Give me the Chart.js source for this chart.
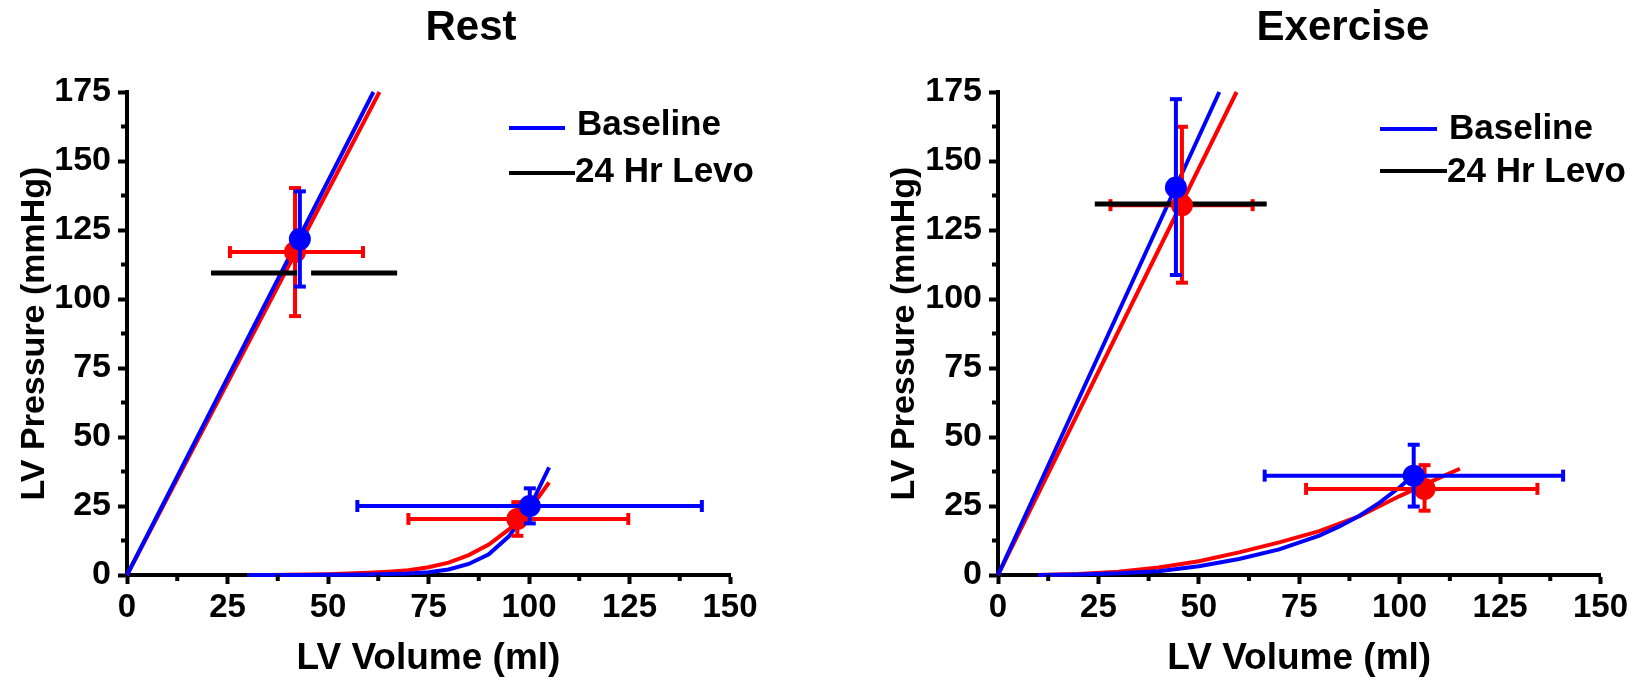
<!DOCTYPE html>
<html><head><meta charset="utf-8">
<script src="https://cdn.jsdelivr.net/npm/chart.js@4.4.1/dist/chart.umd.min.js"></script>
<style>
html,body{margin:0;padding:0;background:#fff;}
#wrap{position:relative;width:1635px;height:684px;overflow:hidden;background:#fff;}
.cv{position:absolute;top:0;height:684px;}
.ttl{position:absolute;width:400px;text-align:center;font:bold 42px "Liberation Sans",Arial,sans-serif;line-height:48px;color:#000;white-space:nowrap;}
.lgt{position:absolute;font:bold 35px "Liberation Sans",Arial,sans-serif;line-height:40px;color:#000;white-space:nowrap;}
.lgl{position:absolute;}
</style>
</head><body>
<div id="wrap">
  <div class="cv" style="left:0;width:817px;"><canvas id="rest" width="817" height="684"></canvas></div>
  <div class="cv" style="left:817px;width:818px;"><canvas id="exer" width="818" height="684"></canvas></div>
  <div class="ttl" style="left:271px;top:2px;">Rest</div>
  <div class="ttl" style="left:1143px;top:2px;">Exercise</div>
  <div class="lgl" style="left:509px;top:126px;width:56px;height:4px;background:#0000ff;"></div>
  <div class="lgt" style="left:577px;top:103px;">Baseline</div>
  <div class="lgl" style="left:509px;top:171px;width:66px;height:4px;background:#000;"></div>
  <div class="lgt" style="left:575px;top:150px;">24 Hr Levo</div>
  <div class="lgl" style="left:1380px;top:127px;width:57px;height:4px;background:#0000ff;"></div>
  <div class="lgt" style="left:1449px;top:107px;">Baseline</div>
  <div class="lgl" style="left:1380px;top:169px;width:67px;height:4px;background:#000;"></div>
  <div class="lgt" style="left:1447px;top:150px;">24 Hr Levo</div>
</div>
<script>
// ---------- axes ----------
const volumeTicks = [0, 25, 50, 75, 100, 125, 150];
const volumeMinor = [12.5, 37.5, 62.5, 87.5, 112.5, 137.5];
const pressureTicks = [0, 25, 50, 75, 100, 125, 150, 175];
const pressureMinor = [12.5, 37.5, 62.5, 87.5, 112.5, 137.5, 162.5];

// ---------- REST ----------
const restEspvrBaseVol = [0, 61.3];
const restEspvrLevoVol = [0, 62.8];
const restEspvrPress = [0, 175];
const restEdpvrVol = [30, 35, 40, 45, 50, 55, 60, 65, 70, 75, 80, 85, 90, 95, 100, 105];
const restEdpvrBase = [0, 0, 0, 0, 0.05, 0.1, 0.2, 0.35, 0.5, 1.0, 2.0, 4.0, 7.5, 14, 24, 39];
const restEdpvrLevo = [0, 0.02, 0.1, 0.2, 0.3, 0.5, 0.8, 1.2, 1.7, 2.8, 4.5, 7.2, 11, 16.5, 23.5, 33.5];
// points: [end-systolic, end-diastolic]
const restBaseVol = [43.0, 100.2];
const restBasePress = [121.7, 25.0];
const restBaseVolErr = [null, [57.3, 143.0]];
const restBasePressErr = [[104.5, 139.0], [18.7, 31.4]];
const restLevoVol = [41.8, 97.1];
const restLevoPress = [117.0, 20.3];
const restLevoVolErr = [[25.6, 58.7], [70.0, 124.7]];
const restLevoPressErr = [[93.8, 140.2], [14.2, 26.4]];
const restBlackPress = 109.4;
const restBlackVol = [[20.9, 42.3], [45.8, 67.2]];

// ---------- EXERCISE ----------
const exEspvrBaseVol = [0, 55.1];
const exEspvrLevoVol = [0, 59.4];
const exEspvrPress = [0, 175];
const exEdpvrBaseVol = [10, 20, 30, 40, 50, 60, 70, 80, 85, 90, 95, 100, 103];
const exEdpvrBase = [0, 0.2, 0.6, 1.4, 3.2, 5.8, 9.3, 14.3, 17.6, 21.5, 26.2, 31.8, 35.6];
const exEdpvrLevoVol = [10, 20, 30, 40, 50, 60, 70, 80, 90, 100, 110, 115];
const exEdpvrLevo = [0, 0.4, 1.2, 2.7, 5.0, 8.2, 11.8, 15.9, 21.3, 28.6, 35.3, 38.5];
const exBaseVol = [44.3, 103.5];
const exBasePress = [140.4, 36.0];
const exBaseVolErr = [null, [66.4, 140.7]];
const exBasePressErr = [[108.7, 172.4], [24.8, 47.2]];
const exLevoVol = [45.8, 106.2];
const exLevoPress = [134.0, 31.2];
const exLevoVolErr = [[28.0, 63.4], [76.7, 134.3]];
const exLevoPressErr = [[105.9, 162.4], [23.3, 39.8]];
const exBlackPress = 134.4;
const exBlackVol = [[24.1, 43.5], [47.4, 66.9]];

const BLUE = '#0000ff', RED = '#ff0000', BLACK = '#000000';

function lineDs(xs, ys, color, w) {
  return { data: xs.map((x, i) => ({ x: x, y: ys[i] })), showLine: true, borderColor: color,
    borderWidth: w, pointRadius: 0, clip: false, tension: 0 };
}
function errDs(lo, hi, fixed, horizontal, color) {
  const data = horizontal ? [{ x: lo, y: fixed }, { x: hi, y: fixed }] : [{ x: fixed, y: lo }, { x: fixed, y: hi }];
  return { data: data, showLine: true, borderColor: color, borderWidth: 4, pointStyle: 'line',
    pointRadius: 6, pointRotation: horizontal ? 90 : 0, pointBorderColor: color,
    pointBorderWidth: 4, pointBackgroundColor: color, clip: false };
}
function ptDs(xs, ys, color) {
  return { data: xs.map((x, i) => ({ x: x, y: ys[i] })), showLine: false, pointRadius: 11,
    pointStyle: 'circle', pointBackgroundColor: color, pointBorderColor: color, pointBorderWidth: 0, clip: false };
}
function errorSet(vols, press, volErr, pressErr, color) {
  const out = [];
  vols.forEach((v, i) => {
    if (volErr[i]) out.push(errDs(volErr[i][0], volErr[i][1], press[i], true, color));
    if (pressErr[i]) out.push(errDs(pressErr[i][0], pressErr[i][1], v, false, color));
  });
  return out;
}

function buildDatasets(c) {
  // back-to-front
  const list = [];
  list.push(lineDs(c.espvrLevoVol, c.espvrPress, RED, 4));
  list.push(lineDs(c.espvrBaseVol, c.espvrPress, BLUE, 4));
  list.push(lineDs(c.edpvrLevoVol, c.edpvrLevo, RED, 4));
  list.push(lineDs(c.edpvrBaseVol, c.edpvrBase, BLUE, 4));
  errorSet(c.levoVol, c.levoPress, c.levoVolErr, c.levoPressErr, RED).forEach(d => list.push(d));
  c.blackVol.forEach(seg => list.push(lineDs(seg, [c.blackPress, c.blackPress], BLACK, 5)));
  list.push(ptDs(c.levoVol, c.levoPress, RED));
  errorSet(c.baseVol, c.basePress, c.baseVolErr, c.basePressErr, BLUE).forEach(d => list.push(d));
  list.push(ptDs(c.baseVol, c.basePress, BLUE));
  const n = list.length;
  list.forEach((d, i) => { d.order = n - i; });
  return list;
}

const minorTicks = {
  id: 'minorTicks',
  afterDraw(chart) {
    const ctx = chart.ctx, a = chart.chartArea;
    const xs = chart.scales.x, ys = chart.scales.y;
    ctx.save();
    ctx.strokeStyle = '#000';
    ctx.lineWidth = 4;
    ctx.beginPath();
    pressureMinor.forEach(v => {
      const p = ys.getPixelForValue(v);
      ctx.moveTo(a.left, p); ctx.lineTo(a.left - 6, p);
    });
    volumeMinor.forEach(v => {
      const p = xs.getPixelForValue(v);
      ctx.moveTo(p, a.bottom); ctx.lineTo(p, a.bottom + 6);
    });
    ctx.stroke();
    ctx.restore();
  }
};

const xTickFont = { family: '"Liberation Sans Narrow","Arial Narrow","Liberation Sans",Arial,sans-serif', size: 33, weight: 'bold', lineHeight: 1 };
const xTitleFont = { family: '"Liberation Sans Narrow","Arial Narrow","Liberation Sans",Arial,sans-serif', size: 37, weight: 'bold', lineHeight: 1 };
const yTickFont = { family: '"Liberation Sans",Arial,sans-serif', size: 34, weight: 'bold', lineHeight: 1 };
const yTitleFont = { family: '"Liberation Sans",Arial,sans-serif', size: 34, weight: 'bold', lineHeight: 1 };

function makeScales(yWidth, yTitlePad) {
  return {
    x: {
      type: 'linear', min: 0, max: 150,
      afterBuildTicks: s => { s.ticks = volumeTicks.map(v => ({ value: v })); },
      afterFit: s => { s.height = 109; },
      grid: { display: true, drawOnChartArea: false, drawTicks: true, tickLength: 9, tickWidth: 4, tickColor: '#000' },
      border: { display: true, color: '#000', width: 4 },
      ticks: { font: xTickFont, color: '#000', padding: 7, maxRotation: 0, autoSkip: false, callback: v => String(v) },
      title: { display: true, text: 'LV Volume (ml)', font: xTitleFont, color: '#000', padding: { top: 0, bottom: 7 } }
    },
    y: {
      type: 'linear', min: 0, max: 175,
      afterBuildTicks: s => { s.ticks = pressureTicks.map(v => ({ value: v })); },
      afterFit: s => { s.width = yWidth; },
      grid: { display: true, drawOnChartArea: false, drawTicks: true, tickLength: 9, tickWidth: 4, tickColor: '#000' },
      border: { display: true, color: '#000', width: 4 },
      ticks: { font: yTickFont, color: '#000', padding: 7, autoSkip: false, callback: v => String(v) },
      title: { display: true, text: 'LV Pressure (mmHg)', font: yTitleFont, color: '#000', padding: { top: yTitlePad, bottom: 0 } }
    }
  };
}

function makeChart(id, cfg, yWidth, yTitlePad, padRight) {
  return new Chart(document.getElementById(id), {
    type: 'scatter',
    data: { datasets: buildDatasets(cfg) },
    options: {
      responsive: false, animation: false, events: [],
      layout: { padding: { left: 0, right: padRight, top: 92, bottom: 0 } },
      plugins: { legend: { display: false }, tooltip: { enabled: false }, title: { display: false } },
      scales: makeScales(yWidth, yTitlePad)
    },
    plugins: [minorTicks]
  });
}

makeChart('rest', {
  espvrBaseVol: restEspvrBaseVol, espvrLevoVol: restEspvrLevoVol, espvrPress: restEspvrPress,
  edpvrBaseVol: restEdpvrVol, edpvrBase: restEdpvrBase, edpvrLevoVol: restEdpvrVol, edpvrLevo: restEdpvrLevo,
  baseVol: restBaseVol, basePress: restBasePress, baseVolErr: restBaseVolErr, basePressErr: restBasePressErr,
  levoVol: restLevoVol, levoPress: restLevoPress, levoVolErr: restLevoVolErr, levoPressErr: restLevoPressErr,
  blackPress: restBlackPress, blackVol: restBlackVol
}, 127, 18, 87);

makeChart('exer', {
  espvrBaseVol: exEspvrBaseVol, espvrLevoVol: exEspvrLevoVol, espvrPress: exEspvrPress,
  edpvrBaseVol: exEdpvrBaseVol, edpvrBase: exEdpvrBase, edpvrLevoVol: exEdpvrLevoVol, edpvrLevo: exEdpvrLevo,
  baseVol: exBaseVol, basePress: exBasePress, baseVolErr: exBaseVolErr, basePressErr: exBasePressErr,
  levoVol: exLevoVol, levoPress: exLevoPress, levoVolErr: exLevoVolErr, levoPressErr: exLevoPressErr,
  blackPress: exBlackPress, blackVol: exBlackVol
}, 181, 71, 32);
</script>
</body></html>
